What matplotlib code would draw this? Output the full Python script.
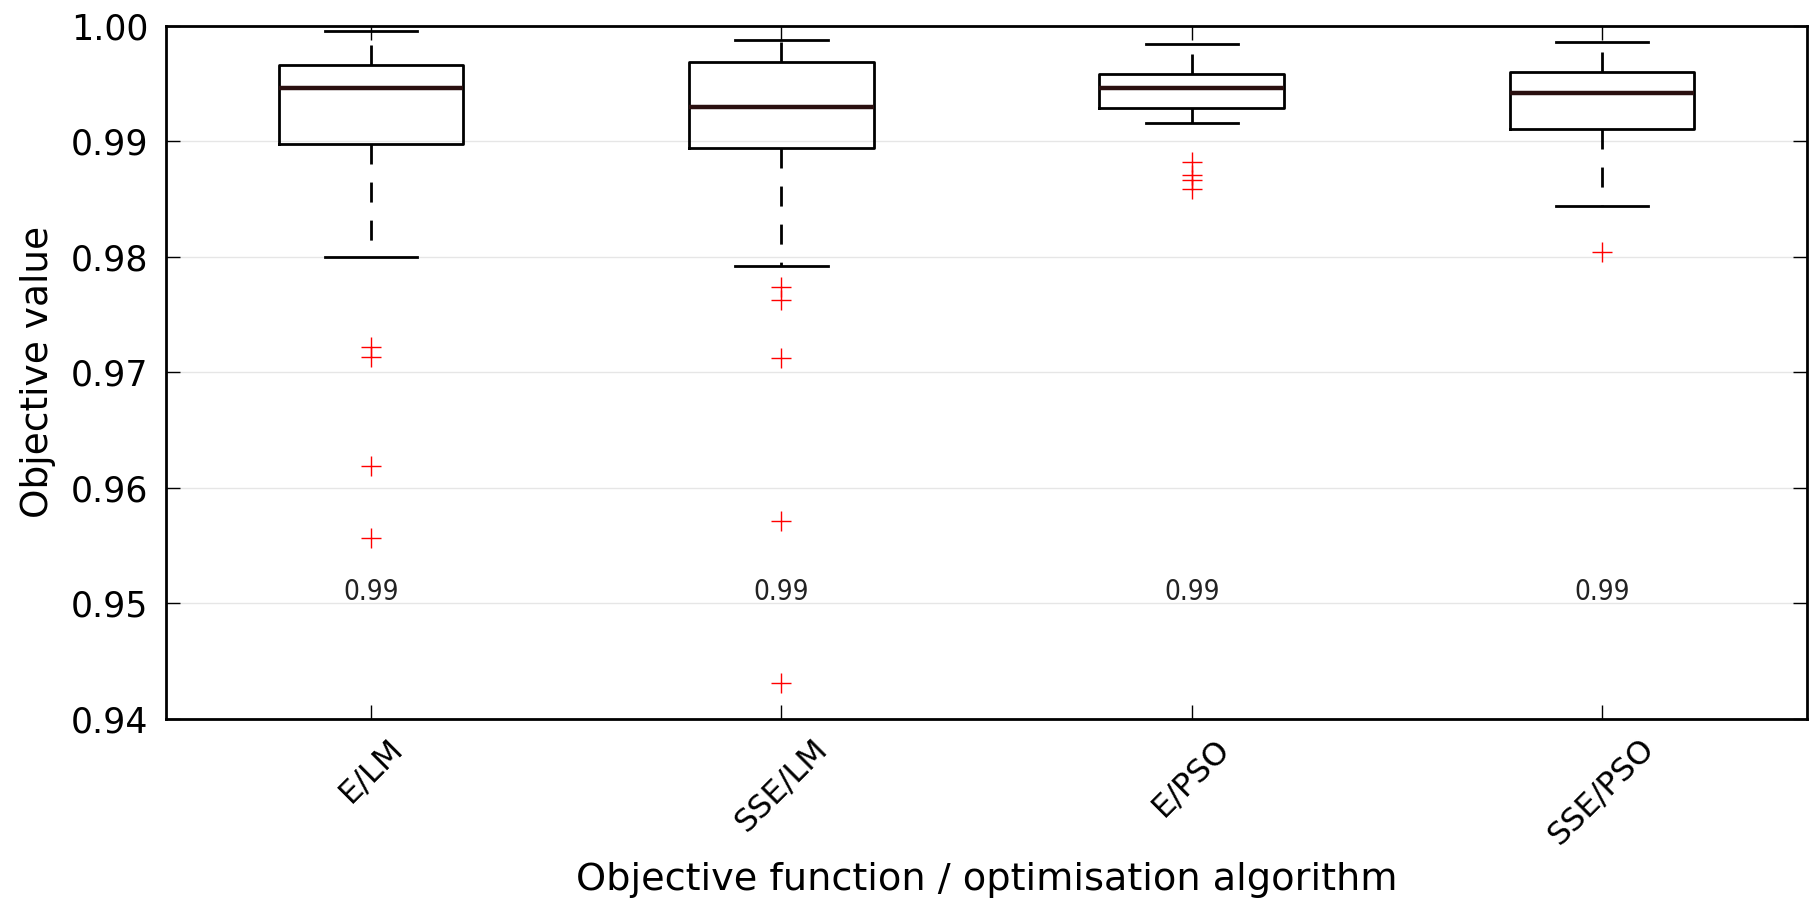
import numpy as np
import matplotlib.pyplot as plt

labels = ['E/LM', 'SSE/LM', 'E/PSO', 'SSE/PSO']
whis_hi = [0.99957, 0.99879, 0.99842, 0.99859]
q3 = [0.99657, 0.99683, 0.99582, 0.99602]
medians = [0.99458, 0.99299, 0.99463, 0.99420]
q1 = [0.98978, 0.98944, 0.99285, 0.99106]
whis_lo = [0.98000, 0.97922, 0.99160, 0.98442]
fliers = [
    [0.97221, 0.97129, 0.96188, 0.95567],
    [0.97740, 0.97625, 0.97126, 0.95712, 0.94312],
    [0.98822, 0.98707, 0.98664, 0.98584],
    [0.98043],
]
annot = ['0.99', '0.99', '0.99', '0.99']

stats = []
for i in range(len(labels)):
    stats.append(dict(label=labels[i], whislo=whis_lo[i], q1=q1[i], med=medians[i],
                      q3=q3[i], whishi=whis_hi[i], fliers=fliers[i]))

fig = plt.figure(figsize=(18.17, 9.06), dpi=100)
ax = fig.add_axes([0.0914, 0.2067, 0.9031, 0.7649])

pos = np.arange(1, len(labels) + 1)
ax.bxp(stats, positions=pos, widths=0.45,
       boxprops=dict(color='black', linewidth=2),
       medianprops=dict(color='#2a1010', linewidth=3.2),
       whiskerprops=dict(color='black', linewidth=2, linestyle=(0, (7.2, 6.5))),
       capprops=dict(color='black', linewidth=2),
       flierprops=dict(marker='+', markeredgecolor='red', markersize=14,
                       markeredgewidth=1, linestyle='none'))

for p, t in zip(pos, annot):
    ax.text(p, 0.9503, t, ha='center', va='baseline', fontsize=20, color='#222222',
            fontstretch='condensed')

ax.set_xlim(0.5, 4.5)
ax.set_ylim(0.94, 1.00)
ax.set_yticks(np.arange(0.94, 1.0001, 0.01))
ax.set_yticklabels(['%.2f' % v for v in np.arange(0.94, 1.0001, 0.01)])
ax.set_xticks(pos)
ax.set_xticklabels(labels, rotation=45, fontsize=23)
ax.yaxis.grid(True, color='#e6e6e6', linewidth=1)
ax.set_axisbelow(True)
ax.tick_params(axis='both', direction='in', length=10, width=1, top=True, right=True)
ax.tick_params(axis='y', labelsize=25, pad=13)
ax.tick_params(axis='x', pad=10)
for s in ax.spines.values():
    s.set_linewidth(2)

ax.set_ylabel('Objective value', fontsize=27)
ax.yaxis.set_label_coords(-0.067, 0.5)
ax.set_xlabel('Objective function / optimisation algorithm', fontsize=27.5)
ax.xaxis.set_label_coords(0.5, -0.207)

fig.savefig('out.png', dpi=100)
